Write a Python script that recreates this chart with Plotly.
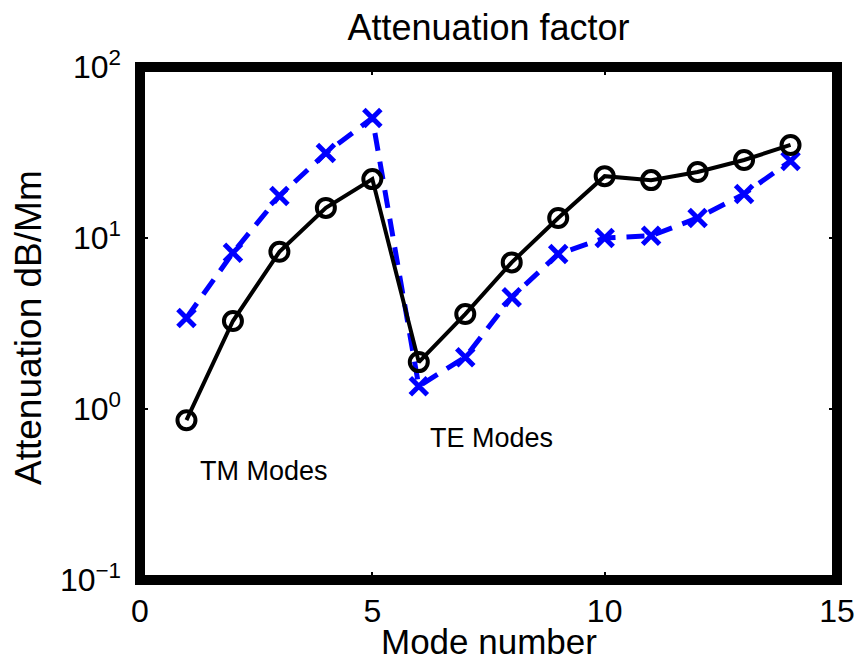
import plotly.graph_objects as go

modes = list(range(1, 15))
atten_solid = [0.86, 3.27, 8.3, 15.0, 22.1, 1.88, 3.59, 7.2, 13.1, 23.0, 21.8, 24.3, 28.6, 35.0]
atten_dashed = [3.41, 8.2, 17.6, 31.4, 50.3, 1.36, 2.01, 4.5, 8.06, 10.0, 10.3, 13.1, 18.1, 28.2]

x_ticks = [0, 5, 10, 15]
y_tickvals = [0.1, 1, 10, 100]
y_ticktext = ["10<sup>\u22121</sup>", "10<sup>0</sup>", "10<sup>1</sup>", "10<sup>2</sup>"]

title_text = "Attenuation factor"
x_label = "Mode number"
y_label = "Attenuation dB/Mm"
tm_label = "TM Modes"
te_label = "TE Modes"

FONT = "Liberation Sans, Arial, sans-serif"

# page body has an 8px margin; offset the figure layout accordingly
W, H = 859, 659
OFF = 8

fig = go.Figure()
fig.add_trace(go.Scatter(
    x=modes, y=atten_dashed, mode="lines+markers",
    line=dict(color="#0000ff", width=5, dash="18px,11px"),
    marker=dict(symbol="x-thin", size=17, color="#0000ff",
                line=dict(color="#0000ff", width=5)),
    showlegend=False,
))
fig.add_trace(go.Scatter(
    x=modes, y=atten_solid, mode="lines+markers",
    line=dict(color="black", width=4),
    marker=dict(symbol="circle-open", size=18, color="black",
                line=dict(color="black", width=4)),
    showlegend=False,
))

fig.update_layout(
    width=W, height=H,
    margin=dict(l=140 - OFF, r=(W + OFF) - 843, t=67 - OFF, b=(H + OFF) - 580),
    paper_bgcolor="white", plot_bgcolor="white",
    font=dict(family=FONT, color="black"),
    title=dict(text=title_text, x=0.5, xref="paper", xanchor="center",
               y=1 - (27 - OFF) / H, yanchor="middle",
               font=dict(size=36, family=FONT, color="black")),
    xaxis=dict(range=[0, 15], tickvals=x_ticks, showgrid=False, zeroline=False,
               showline=False, ticks="inside", ticklen=8, tickwidth=2,
               tickcolor="black", mirror="ticks", ticklabeloverflow="allow",
               tickfont=dict(size=32, family=FONT, color="black"),
               ticklabelstandoff=9),
    yaxis=dict(type="log", range=[-1, 2], tickvals=y_tickvals, ticktext=y_ticktext,
               showgrid=False, zeroline=False, showline=False, ticks="inside",
               ticklen=8, tickwidth=2, tickcolor="black", mirror="ticks",
               ticklabeloverflow="allow",
               tickfont=dict(size=32, family=FONT, color="black"),
               ticklabelstandoff=18),
    shapes=[dict(type="rect", xref="paper", yref="paper", x0=0, x1=1, y0=0, y1=1,
                 line=dict(color="black", width=10), layer="above")],
    annotations=[
        dict(text=tm_label, x=1.24, y=-0.363, xref="x", yref="y",
             xanchor="left", yanchor="middle", showarrow=False,
             font=dict(size=27, family=FONT, color="black")),
        dict(text=te_label, x=6.19, y=-0.170, xref="x", yref="y",
             xanchor="left", yanchor="middle", showarrow=False,
             font=dict(size=27, family=FONT, color="black")),
        dict(text=x_label, x=0.5, y=-(641 - 580) / 513, xref="paper", yref="paper",
             xanchor="center", yanchor="middle", showarrow=False,
             font=dict(size=35, family=FONT, color="black")),
        dict(text=y_label, x=(27 - 140) / 703, y=(580 - 327) / 513,
             xref="paper", yref="paper", textangle=-90,
             xanchor="center", yanchor="middle", showarrow=False,
             font=dict(size=37, family=FONT, color="black")),
    ],
)

fig.write_html("out.html")
